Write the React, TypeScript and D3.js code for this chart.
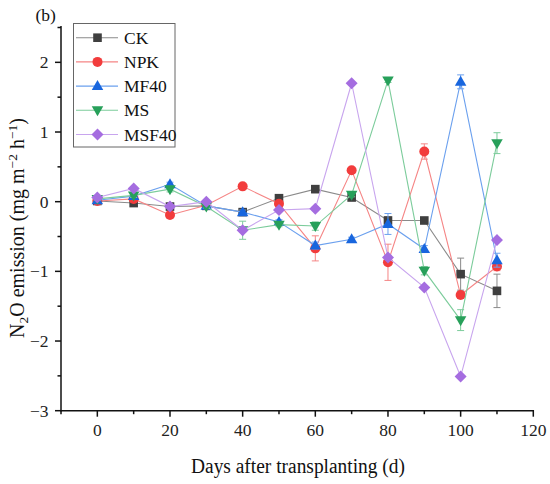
import React from "react";
import * as d3 from "d3";

const days = [0, 10, 20, 30, 40, 50, 60, 70, 80, 90, 100, 110];
const seriesNames = ["CK", "NPK", "MF40", "MS", "MSF40"];
const ckValues = [0.01, -0.02, -0.07, -0.06, -0.15, 0.05, 0.18, 0.06, -0.27, -0.27, -1.04, -1.28];
const npkValues = [0.01, 0.04, -0.19, -0.05, 0.22, -0.03, -0.67, 0.45, -0.87, 0.72, -1.34, -0.93];
const mf40Values = [0.02, 0.08, 0.25, -0.06, -0.15, -0.29, -0.63, -0.54, -0.32, -0.68, 1.72, -0.84];
const msValues = [0.04, 0.09, 0.18, -0.07, -0.41, -0.33, -0.35, 0.1, 1.74, -0.99, -1.7, 0.84];
const msf40Values = [0.06, 0.19, -0.07, 0.0, -0.41, -0.12, -0.1, 1.7, -0.8, -1.23, -2.51, -0.55];
const ckErr = [0.02, 0.02, 0.03, 0.02, 0.03, 0.03, 0.05, 0.03, 0.05, 0.03, 0.23, 0.24];
const npkErr = [0.02, 0.02, 0.03, 0.02, 0.02, 0.03, 0.18, 0.03, 0.26, 0.11, 0.05, 0.06];
const mf40Err = [0.02, 0.02, 0.03, 0.02, 0.03, 0.03, 0.05, 0.03, 0.15, 0.05, 0.1, 0.1];
const msErr = [0.02, 0.03, 0.04, 0.02, 0.13, 0.03, 0.06, 0.03, 0.03, 0.06, 0.15, 0.15];
const msf40Err = [0.02, 0.02, 0.02, 0.02, 0.03, 0.02, 0.03, 0.02, 0.03, 0.02, 0.02, 0.02];
const xTicks = [0, 20, 40, 60, 80, 100, 120];
const xMinor = [-10, 10, 30, 50, 70, 90, 110];
const yTicks = [-3, -2, -1, 0, 1, 2];
const yMinor = [-2.5, -1.5, -0.5, 0.5, 1.5, 2.5];

const allValues = [ckValues, npkValues, mf40Values, msValues, msf40Values];
const allErr = [ckErr, npkErr, mf40Err, msErr, msf40Err];
const markerColors = ["#3f3f3f", "#f23c3c", "#1866de", "#27a05a", "#a56de0"];
const lineColors = ["#8a8a8a", "#f58585", "#6ba0ee", "#7ccc9b", "#c8a5ee"];
const symbols = ["square", "circle", "triUp", "triDown", "diamond"];

const FONT = "'Liberation Serif', 'Times New Roman', serif";

function Marker({ kind, x, y, color }: { kind: string; x: number; y: number; color: string }) {
  if (kind === "square") return <rect x={x - 4.3} y={y - 4.3} width={8.6} height={8.6} fill={color} />;
  if (kind === "circle") return <circle cx={x} cy={y} r={5} fill={color} />;
  if (kind === "triUp") {
    const s = 11.5, h = 10;
    return <path d={`M${x},${y - h * 0.6}L${x + s / 2},${y + h * 0.4}L${x - s / 2},${y + h * 0.4}Z`} fill={color} />;
  }
  if (kind === "triDown") {
    const s = 11.5, h = 10;
    return <path d={`M${x},${y + h * 0.6}L${x + s / 2},${y - h * 0.4}L${x - s / 2},${y - h * 0.4}Z`} fill={color} />;
  }
  const r = 6;
  return <path d={`M${x},${y - r}L${x + r},${y}L${x},${y + r}L${x - r},${y}Z`} fill={color} />;
}

export default function App() {
  const W = 550, H = 484;
  const x = d3.scaleLinear().domain([-10, 120]).range([61, 533.3]);
  const y = d3.scaleLinear().domain([-3, 2.5]).range([410.7, 27.5]);
  const line = d3.line<number>().x((_, i) => x(days[i])).y((v) => y(v));

  return (
    <div style={{ position: "absolute", left: 0, top: 0 }}>
      <svg width={W} height={H} style={{ display: "block", background: "#fff" }} fontFamily={FONT}>
        {allValues.map((vals, si) => (
          <g key={seriesNames[si]}>
            <path d={line(vals) || ""} fill="none" stroke={lineColors[si]} strokeWidth={1.1} />
            {vals.map((v, i) => {
              const e = allErr[si][i];
              const cx = x(days[i]);
              return (
                <g key={i} stroke={lineColors[si]} strokeWidth={1}>
                  <line x1={cx} x2={cx} y1={y(v - e)} y2={y(v + e)} />
                  <line x1={cx - 3.5} x2={cx + 3.5} y1={y(v - e)} y2={y(v - e)} />
                  <line x1={cx - 3.5} x2={cx + 3.5} y1={y(v + e)} y2={y(v + e)} />
                </g>
              );
            })}
            {vals.map((v, i) => (
              <Marker key={i} kind={symbols[si]} x={x(days[i])} y={y(v)} color={markerColors[si]} />
            ))}
          </g>
        ))}

        <g stroke="#111" strokeWidth={1.5}>
          <line x1={x(-10)} x2={x(120) + 0.75} y1={y(-3)} y2={y(-3)} />
          <line x1={x(-10)} x2={x(-10)} y1={y(-3) + 0.75} y2={y(2.5) - 1.5} />
          {xTicks.map((t) => (
            <line key={"xt" + t} x1={x(t)} x2={x(t)} y1={y(-3)} y2={y(-3) + 6} />
          ))}
          {xMinor.map((t) => (
            <line key={"xm" + t} x1={x(t)} x2={x(t)} y1={y(-3)} y2={y(-3) + 3.5} />
          ))}
          {yTicks.map((t) => (
            <line key={"yt" + t} x1={x(-10) - 6} x2={x(-10)} y1={y(t)} y2={y(t)} />
          ))}
          {yMinor.map((t) => (
            <line key={"ym" + t} x1={x(-10) - 3.5} x2={x(-10)} y1={y(t)} y2={y(t)} />
          ))}
        </g>
        <g fontSize={17.5} fill="#222">
          {xTicks.map((t) => (
            <text key={"xl" + t} x={x(t)} y={435.5} textAnchor="middle">
              {t}
            </text>
          ))}
          {yTicks.map((t) => (
            <text key={"yl" + t} x={48.5} y={y(t) + 6} textAnchor="end">
              {t < 0 ? "\u2212" + Math.abs(t) : t}
            </text>
          ))}
        </g>

        <text x={298} y={473} textAnchor="middle" fontSize={20} fill="#111" textLength={214} lengthAdjust="spacingAndGlyphs">
          Days after transplanting (d)
        </text>
        <text transform="translate(23.5,228) rotate(-90)" textAnchor="middle" fontSize={20} fill="#111">
          N<tspan fontSize={13.5} dy={4}>2</tspan>
          <tspan dy={-4}>O emission (mg m</tspan>
          <tspan fontSize={13.5} dy={-7}>{"\u22122"}</tspan>
          <tspan dy={7}> h</tspan>
          <tspan fontSize={13.5} dy={-7}>{"\u22121"}</tspan>
          <tspan dy={7}>)</tspan>
        </text>
        <text x={35.5} y={21} fontSize={17.5} fill="#111">(b)</text>

        <rect x={73.5} y={23.5} width={101.5} height={123.5} fill="#fff" stroke="#666" strokeWidth={1} />
        {seriesNames.map((n, i) => {
          const ly = 37.7 + i * 24.2;
          return (
            <g key={"lg" + n}>
              <line x1={76} x2={118} y1={ly} y2={ly} stroke={lineColors[i]} strokeWidth={1.1} />
              <Marker kind={symbols[i]} x={97.5} y={ly} color={markerColors[i]} />
              <text x={124} y={ly + 6} fontSize={17.5} fill="#111">
                {n}
              </text>
            </g>
          );
        })}
      </svg>
    </div>
  );
}
